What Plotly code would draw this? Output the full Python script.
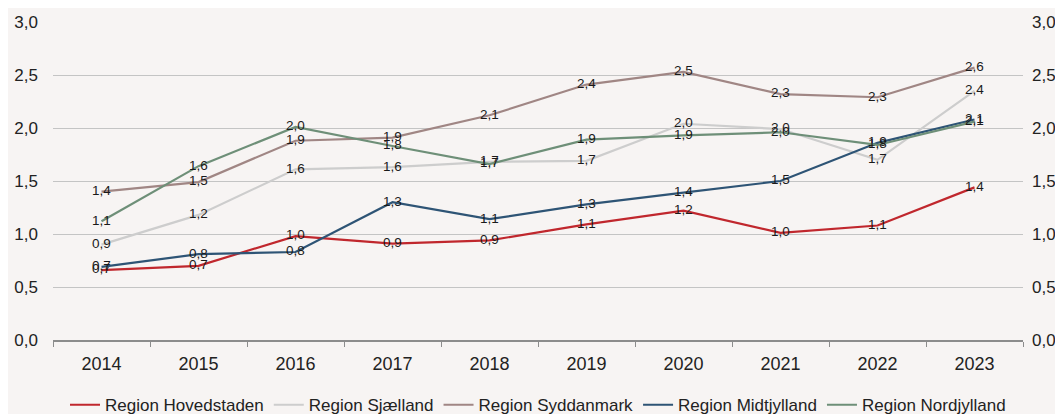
import plotly.graph_objects as go

# data
years = ["2014", "2015", "2016", "2017", "2018", "2019", "2020", "2021", "2022", "2023"]

hovedstaden = [0.66, 0.70, 0.98, 0.91, 0.94, 1.09, 1.22, 1.01, 1.08, 1.44]
sjaelland = [0.90, 1.18, 1.61, 1.63, 1.68, 1.69, 2.04, 1.99, 1.70, 2.35]
syddanmark = [1.40, 1.49, 1.88, 1.91, 2.12, 2.41, 2.53, 2.32, 2.29, 2.57]
midtjylland = [0.69, 0.81, 0.83, 1.30, 1.14, 1.28, 1.39, 1.50, 1.86, 2.08]
nordjylland = [1.12, 1.64, 2.01, 1.83, 1.66, 1.89, 1.93, 1.96, 1.84, 2.06]

series = [
    ("Region Hovedstaden", hovedstaden, "#C0272D"),
    ("Region Sjælland", sjaelland, "#CDCDCD"),
    ("Region Syddanmark", syddanmark, "#A08684"),
    ("Region Midtjylland", midtjylland, "#2E5475"),
    ("Region Nordjylland", nordjylland, "#6E8F78"),
]

font_family = "Liberation Sans, Arial, sans-serif"
bg = "#F7F4F3"

fig = go.Figure()
for name, vals, color in series:
    fig.add_trace(go.Scatter(
        x=years,
        y=vals,
        name=name,
        mode="lines+text",
        line=dict(color=color, width=2.2),
        text=vals,
        texttemplate="%{y:.1f}",
        textposition="middle center",
        textfont=dict(size=13.5, color="#1a1a1a"),
        hoverinfo="x+y",
    ))

# invisible trace so the right axis is drawn
fig.add_trace(go.Scatter(
    x=years, y=hovedstaden, yaxis="y2", showlegend=False,
    mode="lines", line=dict(width=0), hoverinfo="skip",
))

# page body has an 8px margin, so the figure is a bit smaller than the window
fig.update_layout(
    width=1055,
    height=406,
    paper_bgcolor=bg,
    plot_bgcolor=bg,
    separators=",.",
    margin=dict(l=45, r=40, t=14, b=74, autoexpand=False),
    font=dict(family=font_family, size=16, color="#222222"),
    xaxis=dict(
        type="category",
        showgrid=False,
        showline=True,
        linecolor="#8c8c8c",
        linewidth=2,
        ticks="outside",
        tickson="boundaries",
        ticklen=5,
        tickcolor="#8c8c8c",
        tickfont=dict(size=18),
        ticklabelstandoff=6,
        automargin=False,
    ),
    yaxis=dict(
        range=[0, 3],
        dtick=0.5,
        tickformat=".1f",
        showgrid=True,
        gridcolor="#c4c4c4",
        gridwidth=1,
        zeroline=False,
        ticks="",
        tickfont=dict(size=17),
        ticklabelstandoff=14,
        automargin=False,
    ),
    yaxis2=dict(
        range=[0, 3],
        dtick=0.5,
        tickformat=".1f",
        overlaying="y",
        side="right",
        showgrid=False,
        zeroline=False,
        ticks="",
        tickfont=dict(size=17),
        ticklabelstandoff=8,
        automargin=False,
    ),
    legend=dict(
        orientation="h",
        x=0.5,
        xanchor="center",
        y=-0.205,
        yanchor="middle",
        font=dict(size=17),
        bgcolor="rgba(0,0,0,0)",
        itemwidth=30,
        tracegroupgap=0,
    ),
    showlegend=True,
)

fig.write_html("out.html")
